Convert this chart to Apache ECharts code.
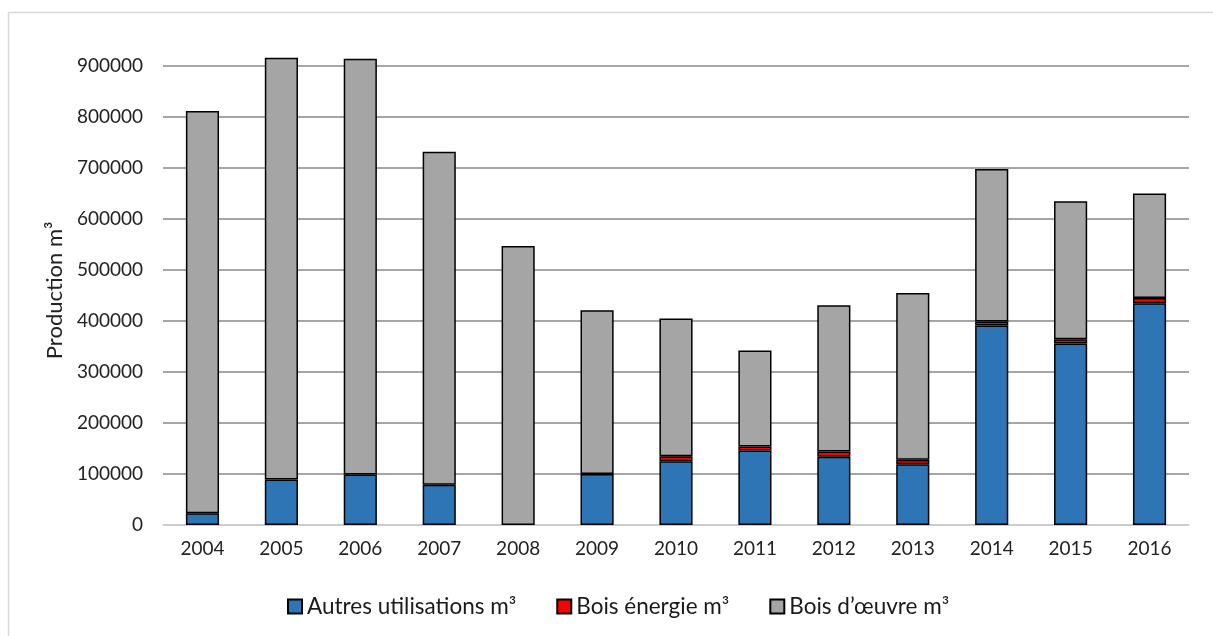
<!DOCTYPE html>
<html>
<head>
<meta charset="utf-8">
<script src="https://cdn.jsdelivr.net/npm/echarts@6/dist/echarts.min.js"></script>
<style>
html,body{margin:0;padding:0;background:#fff;}
#chart{width:1213px;height:636px;}
</style>
</head>
<body>
<div id="chart"></div>
<script>
const years = ['2004','2005','2006','2007','2008','2009','2010','2011','2012','2013','2014','2015','2016'];
const autres = [23000, 89000, 99000, 79000, null, 100000, 125000, 146000, 134000, 119000, 391000, 356000, 435000];
const energie = [null, null, null, null, null, null, 10000, 8000, 10000, 9000, 8000, 8000, 10000];
const oeuvre = [789000, 827000, 815000, 653000, 547000, 321000, 270000, 188000, 287000, 327000, 299000, 271000, 205000];
const seriesNames = ['Autres utilisations m³', 'Bois énergie m³', 'Bois d’œuvre m³'];
const colors = ['#2E75B6', '#FF0000', '#A5A5A5'];

const chart = echarts.init(document.getElementById('chart'), null, {renderer: 'canvas'});
const FONT = 'Lato, "Open Sans", sans-serif';
function bar(name, data, color) {
  return {
    name: name, type: 'bar', stack: 'total', data: data, barWidth: '42%',
    itemStyle: {color: color, borderColor: '#000', borderWidth: 1.5},
    emphasis: {disabled: true}
  };
}
chart.setOption({
  animation: false,
  backgroundColor: '#fff',
  graphic: [{
    type: 'rect', silent: true,
    shape: {x: 8.5, y: 12.5, width: 1400, height: 800},
    style: {fill: 'none', stroke: '#D9D9D9', lineWidth: 1.5}
  }],
  grid: {left: 163, right: 24, top: 55.8, bottom: 111, containLabel: false},
  legend: {
    left: 282, top: 590, itemWidth: 14, itemHeight: 14, itemGap: 40,
    icon: 'rect',
    data: seriesNames,
    textStyle: {fontFamily: FONT, fontSize: 22.5, color: '#1a1a1a'}
  },
  xAxis: {
    type: 'category', data: years,
    axisTick: {show: false},
    axisLine: {lineStyle: {color: '#D9D9D9', width: 1.5}},
    axisLabel: {fontFamily: FONT, fontSize: 19, color: '#222', margin: 14}
  },
  yAxis: {
    type: 'value', min: 0, max: 920000, interval: 100000,
    name: 'Production m³', nameLocation: 'middle', nameGap: 94, nameRotate: 90,
    nameTextStyle: {fontFamily: FONT, fontSize: 22, color: '#222'},
    axisLine: {show: false}, axisTick: {show: false},
    axisLabel: {
      fontFamily: FONT, fontSize: 19, color: '#222', margin: 20, showMaxLabel: false,
      formatter: function (v) { return v % 100000 === 0 ? String(v) : ''; }
    },
    splitLine: {show: true, showMaxLine: false, lineStyle: {color: '#898989', width: 1.5}}
  },
  series: [
    bar(seriesNames[0], autres, colors[0]),
    bar(seriesNames[1], energie, colors[1]),
    bar(seriesNames[2], oeuvre, colors[2])
  ]
});
</script>
</body>
</html>
